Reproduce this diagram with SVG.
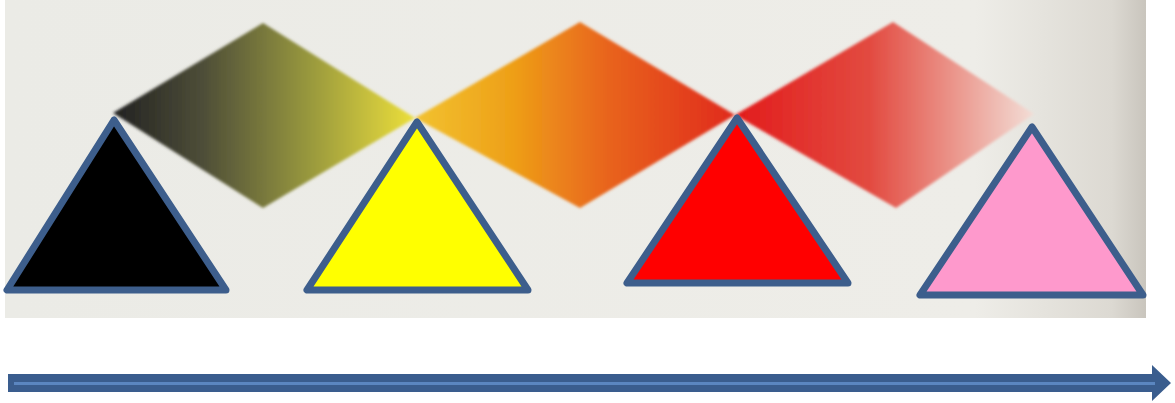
<svg xmlns="http://www.w3.org/2000/svg" width="1175" height="403" viewBox="0 0 1175 403">
<defs>
<linearGradient id="bg" x1="0" y1="0" x2="1" y2="0">
<stop offset="0" stop-color="#ebebe6"/>
<stop offset="0.85" stop-color="#eeede8"/>
<stop offset="0.97" stop-color="#dcd9d2"/>
<stop offset="1" stop-color="#c9c5bd"/>
</linearGradient>
<linearGradient id="g1" x1="0" y1="0" x2="1" y2="0">
<stop offset="0" stop-color="#222"/>
<stop offset="0.3" stop-color="#4e4e38"/>
<stop offset="0.65" stop-color="#98983e"/>
<stop offset="1" stop-color="#ecdf3a"/>
</linearGradient>
<linearGradient id="g2" x1="0" y1="0" x2="1" y2="0">
<stop offset="0" stop-color="#f2c230"/>
<stop offset="0.3" stop-color="#eea018"/>
<stop offset="0.6" stop-color="#e8641c"/>
<stop offset="1" stop-color="#e02a1e"/>
</linearGradient>
<linearGradient id="g3" x1="0" y1="0" x2="1" y2="0">
<stop offset="0" stop-color="#e21c1c"/>
<stop offset="0.45" stop-color="#e24a40"/>
<stop offset="0.75" stop-color="#eb9a90"/>
<stop offset="1" stop-color="#f3ddd6"/>
</linearGradient>
<filter id="soft" x="-5%" y="-5%" width="110%" height="110%">
<feGaussianBlur stdDeviation="1.5"/>
</filter>
<style>
.tri{stroke:#3d5e8c;stroke-width:7;stroke-linejoin:round}
</style>
</defs>
<rect x="0" y="0" width="1175" height="403" fill="#ffffff"/>
<rect x="5" y="0" width="1141" height="318" fill="url(#bg)"/>
<g id="diamonds" filter="url(#soft)">
<polygon id="d1" points="113,113 263,23 415,118 263,208" fill="url(#g1)"/>
<polygon id="d2" points="415,118 580,22 735,115 580,208" fill="url(#g2)"/>
<polygon id="d3" points="735,115 893,22 1034,114 896,208" fill="url(#g3)"/>
</g>
<g id="t1"><polygon class="tri" points="114,120 7,290 226,290" fill="#000000"/></g>
<g id="t2"><polygon class="tri" points="417,122 307,290 528,290" fill="#ffff00"/></g>
<g id="t3"><polygon class="tri" points="737,118 627,283 848,283" fill="#ff0000"/></g>
<g id="t4"><polygon class="tri" points="1032,127 920,295 1143,295" fill="#fe99cc"/></g>
<g id="connectors">
<polygon points="8,374 1152,374 1152,365 1171,383 1152,401 1152,392 8,392" fill="#3a5d8e"/>
<line x1="14" y1="383.5" x2="1155" y2="383.5" stroke="#5b86c0" stroke-width="3"/>
</g>
</svg>
